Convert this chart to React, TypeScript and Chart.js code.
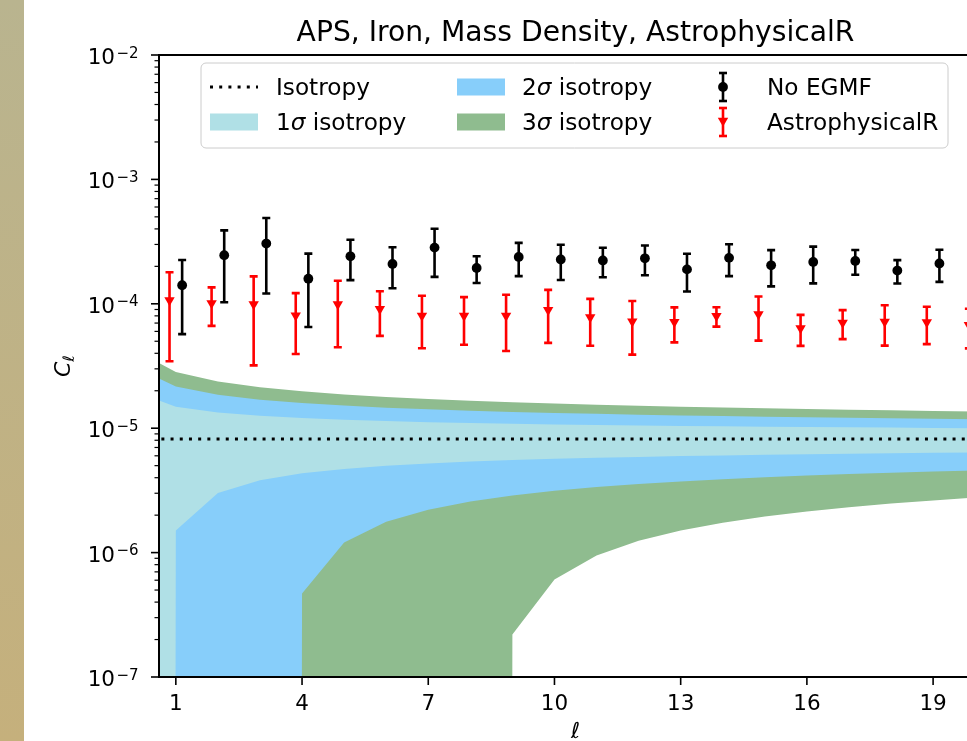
import React, { useEffect, useRef } from 'react';
import { Chart, registerables } from 'chart.js';

Chart.register(...registerables);

// ---------------- data ----------------
const TITLE = 'APS, Iron, Mass Density, AstrophysicalR';
const ELL = [1, 2, 3, 4, 5, 6, 7, 8, 9, 10, 11, 12, 13, 14, 15, 16, 17, 18, 19, 20];
const NO_EGMF_SHIFT = 0.15;
const ASTRO_SHIFT = -0.15;

const NO_EGMF = [1.41e-4, 2.46e-4, 3.05e-4, 1.59e-4, 2.41e-4, 2.09e-4, 2.83e-4, 1.94e-4, 2.38e-4, 2.27e-4,
  2.23e-4, 2.32e-4, 1.89e-4, 2.34e-4, 2.04e-4, 2.17e-4, 2.21e-4, 1.85e-4, 2.11e-4, 2.05e-4];
const NO_EGMF_ERR = [0.84e-4, 1.43e-4, 1.84e-4, 0.94e-4, 0.86e-4, 0.755e-4, 1.185e-4, 0.47e-4, 0.71e-4, 0.715e-4,
  0.595e-4, 0.625e-4, 0.635e-4, 0.67e-4, 0.66e-4, 0.71e-4, 0.5e-4, 0.395e-4, 0.61e-4, 0.6e-4];

const ASTRO_R = [1.07e-4, 1.01e-4, 0.99e-4, 0.807e-4, 0.99e-4, 0.907e-4, 0.80e-4, 0.80e-4, 0.80e-4, 0.89e-4,
  0.778e-4, 0.722e-4, 0.713e-4, 0.797e-4, 0.826e-4, 0.637e-4, 0.705e-4, 0.717e-4, 0.71e-4, 0.675e-4];
const ASTRO_R_ERR = [7.25e-5, 3.45e-5, 6.7e-5, 4.12e-5, 5.42e-5, 3.55e-5, 3.61e-5, 3.31e-5, 3.82e-5, 4.05e-5,
  3.18e-5, 3.32e-5, 2.23e-5, 1.41e-5, 3.2e-5, 1.78e-5, 1.85e-5, 2.56e-5, 2.36e-5, 2.37e-5];

const BAND_ELL = [0, 1, 2, 3, 4, 5, 6, 7, 8, 9, 10, 11, 12, 13, 14, 15, 16, 17, 18, 19, 20];
const ISOTROPY = 8.2e-6;
const SIG1_UPPER = [1.98e-5, 1.49e-5, 1.339e-5, 1.258e-5, 1.207e-5, 1.170e-5, 1.142e-5, 1.119e-5, 1.101e-5, 1.086e-5,
  1.073e-5, 1.062e-5, 1.052e-5, 1.043e-5, 1.035e-5, 1.028e-5, 1.022e-5, 1.016e-5, 1.011e-5, 1.006e-5, 1.001e-5];
const SIG1_LOWER = [0, 1.505e-6, 3.014e-6, 3.817e-6, 4.334e-6, 4.703e-6, 4.984e-6, 5.206e-6, 5.387e-6, 5.540e-6,
  5.669e-6, 5.782e-6, 5.881e-6, 5.968e-6, 6.047e-6, 6.117e-6, 6.181e-6, 6.240e-6, 6.294e-6, 6.343e-6, 6.389e-6];
const SIG2_UPPER = [3.139e-5, 2.159e-5, 1.857e-5, 1.697e-5, 1.593e-5, 1.519e-5, 1.463e-5, 1.419e-5, 1.383e-5, 1.352e-5,
  1.326e-5, 1.304e-5, 1.284e-5, 1.266e-5, 1.251e-5, 1.237e-5, 1.224e-5, 1.212e-5, 1.201e-5, 1.191e-5, 1.182e-5];
const SIG2_LOWER = [0, 0, 0, 0, 4.68e-7, 1.206e-6, 1.768e-6, 2.212e-6, 2.574e-6, 2.880e-6,
  3.138e-6, 3.364e-6, 3.562e-6, 3.736e-6, 3.894e-6, 4.034e-6, 4.162e-6, 4.280e-6, 4.388e-6, 4.486e-6, 4.578e-6];
const SIG3_UPPER = [4.299e-5, 2.829e-5, 2.376e-5, 2.135e-5, 1.980e-5, 1.869e-5, 1.785e-5, 1.718e-5, 1.664e-5, 1.618e-5,
  1.579e-5, 1.545e-5, 1.516e-5, 1.490e-5, 1.466e-5, 1.445e-5, 1.426e-5, 1.408e-5, 1.392e-5, 1.377e-5, 1.363e-5];
const SIG3_LOWER = [0, 0, 0, 0, 0, 0, 0, 0, 0, 2.2e-7,
  6.07e-7, 9.46e-7, 1.243e-6, 1.504e-6, 1.741e-6, 1.951e-6, 2.143e-6, 2.320e-6, 2.482e-6, 2.629e-6, 2.767e-6];

const X_TICKS = [1, 4, 7, 10, 13, 16, 19];
const Y_TICK_EXPONENTS = [-7, -6, -5, -4, -3, -2];
const X_RANGE = [0.6, 20.4];
const Y_RANGE = [1e-7, 1e-2];
// non-positive values are clipped far below the axis (as a log axis does)
const CLIP_FLOOR = 1e-200;

// ---------------- styles ----------------
const C_SIG1 = '#b0e0e6';
const C_SIG2 = '#87cefa';
const C_SIG3 = '#8fbc8f';
const FONT = "'DejaVu Sans', sans-serif";
const CANVAS_W = 1040;
const CANVAS_H = 741;
const AREA = { left: 159, top: 55, right: 992, bottom: 677 };
const ERR_LW = 2.6;
const CAP = 4;

const decorPlugin: any = {
  id: 'decor',
  beforeDatasetDraw(chart: any, args: any) {
    const ds: any = chart.data.datasets[args.index];
    if (!ds.errBars) return;
    const { ctx, chartArea: a } = chart;
    const xs = chart.scales.x;
    const ys = chart.scales.y;
    ctx.save();
    ctx.beginPath();
    ctx.rect(a.left, a.top, a.right - a.left, a.bottom - a.top);
    ctx.clip();
    ctx.strokeStyle = ds.errColor;
    ctx.lineWidth = ERR_LW;
    ds.data.forEach((p: any, i: number) => {
      const e = ds.errBars[i];
      const px = xs.getPixelForValue(p.x);
      const yTop = ys.getPixelForValue(p.y + e);
      const yBot = ys.getPixelForValue(p.y - e);
      ctx.beginPath();
      ctx.moveTo(px, yTop); ctx.lineTo(px, yBot);
      ctx.moveTo(px - CAP, yTop); ctx.lineTo(px + CAP, yTop);
      ctx.moveTo(px - CAP, yBot); ctx.lineTo(px + CAP, yBot);
      ctx.stroke();
    });
    ctx.restore();
  },
  afterDraw(chart: any) {
    const { ctx, chartArea: a } = chart;
    const xs = chart.scales.x;
    const ys = chart.scales.y;
    ctx.save();
    ctx.strokeStyle = '#000';
    ctx.fillStyle = '#000';

    // spines
    ctx.lineWidth = 2;
    ctx.strokeRect(a.left, a.top, a.right - a.left, a.bottom - a.top);

    const line = (x1: number, y1: number, x2: number, y2: number) => {
      ctx.beginPath(); ctx.moveTo(x1, y1); ctx.lineTo(x2, y2); ctx.stroke();
    };

    // y ticks
    ctx.lineWidth = 1.6;
    Y_TICK_EXPONENTS.forEach((e) => {
      const y = ys.getPixelForValue(Math.pow(10, e));
      line(a.left - 8, y, a.left, y);
    });
    ctx.lineWidth = 1.2;
    Y_TICK_EXPONENTS.slice(0, -1).forEach((e) => {
      for (let k = 2; k <= 9; k++) {
        const y = ys.getPixelForValue(k * Math.pow(10, e));
        line(a.left - 4.5, y, a.left, y);
      }
    });
    // x ticks
    ctx.lineWidth = 1.6;
    X_TICKS.forEach((t) => {
      const x = xs.getPixelForValue(t);
      line(x, a.bottom, x, a.bottom + 8);
    });

    // y tick labels
    ctx.textBaseline = 'alphabetic';
    Y_TICK_EXPONENTS.forEach((e) => {
      const y = ys.getPixelForValue(Math.pow(10, e));
      ctx.font = `21.5px ${FONT}`;
      ctx.textAlign = 'right';
      ctx.fillText('10', a.left - 44, y + 9);
      ctx.font = `15px ${FONT}`;
      ctx.textAlign = 'left';
      ctx.fillText('\u2212' + Math.abs(e), a.left - 42.5, y + 2.5);
    });
    // x tick labels
    ctx.font = `21.5px ${FONT}`;
    ctx.textAlign = 'center';
    X_TICKS.forEach((t) => {
      ctx.fillText(String(t), xs.getPixelForValue(t), 710);
    });

    // title
    const cx = (a.left + a.right) / 2;
    ctx.font = `28.2px ${FONT}`;
    ctx.fillText(TITLE, cx, 41);

    // x label
    ctx.font = `italic 22px ${FONT}`;
    ctx.fillText('\u2113', cx, 738);

    // y label C_ell
    ctx.save();
    ctx.translate(70, (a.top + a.bottom) / 2);
    ctx.rotate(-Math.PI / 2);
    ctx.textAlign = 'left';
    ctx.font = `italic 22px ${FONT}`;
    const wC = ctx.measureText('C').width;
    ctx.font = `italic 15.5px ${FONT}`;
    const wL = ctx.measureText('\u2113').width;
    const start = -(wC + wL) / 2;
    ctx.font = `italic 22px ${FONT}`;
    ctx.fillText('C', start, 0);
    ctx.font = `italic 15.5px ${FONT}`;
    ctx.fillText('\u2113', start + wC, 4);
    ctx.restore();

    // legend
    const lx = 201, ly = 63, lw = 747, lh = 85;
    ctx.beginPath();
    ctx.roundRect(lx, ly, lw, lh, 5);
    ctx.fillStyle = 'rgba(255,255,255,0.8)';
    ctx.fill();
    ctx.strokeStyle = '#cccccc';
    ctx.lineWidth = 1;
    ctx.stroke();
    ctx.strokeStyle = '#000';
    ctx.fillStyle = '#000';

    const r1 = 87, r2 = 122;
    const legendText = (parts: [string, boolean][], x: number, y: number) => {
      let px = x;
      ctx.textAlign = 'left';
      parts.forEach(([t, it]) => {
        ctx.font = `${it ? 'italic ' : ''}23.2px ${FONT}`;
        ctx.fillText(t, px, y + 8.3);
        px += ctx.measureText(t).width;
      });
    };
    // col 1
    ctx.save();
    ctx.lineWidth = 3;
    ctx.setLineDash([3, 6.2]);
    line(210, r1, 258, r1);
    ctx.restore();
    ctx.fillStyle = C_SIG1;
    ctx.fillRect(210, r2 - 8.5, 48, 17);
    ctx.fillStyle = '#000';
    legendText([['Isotropy', false]], 276, r1);
    legendText([['1', false], ['\u03c3', true], [' isotropy', false]], 276, r2);
    // col 2
    ctx.fillStyle = C_SIG2;
    ctx.fillRect(457, r1 - 8.5, 48, 17);
    ctx.fillStyle = C_SIG3;
    ctx.fillRect(457, r2 - 8.5, 48, 17);
    ctx.fillStyle = '#000';
    legendText([['2', false], ['\u03c3', true], [' isotropy', false]], 522, r1);
    legendText([['3', false], ['\u03c3', true], [' isotropy', false]], 522, r2);
    // col 3
    const hx = 723;
    const errHandle = (y: number, color: string) => {
      ctx.strokeStyle = color;
      ctx.lineWidth = ERR_LW;
      line(hx, y - 14, hx, y + 14);
      line(hx - CAP, y - 14, hx + CAP, y - 14);
      line(hx - CAP, y + 14, hx + CAP, y + 14);
    };
    errHandle(r1, '#000');
    ctx.fillStyle = '#000';
    ctx.beginPath();
    ctx.arc(hx, r1, 4.9, 0, Math.PI * 2);
    ctx.fill();
    errHandle(r2, '#ff0000');
    ctx.fillStyle = '#ff0000';
    ctx.beginPath();
    ctx.moveTo(hx - 5.2, r2 - 4.3);
    ctx.lineTo(hx + 5.2, r2 - 4.3);
    ctx.lineTo(hx, r2 + 4.7);
    ctx.closePath();
    ctx.fill();
    ctx.fillStyle = '#000';
    legendText([['No EGMF', false]], 767, r1);
    legendText([['AstrophysicalR', false]], 767, r2);

    ctx.restore();
  },
};

export default function App() {
  const ref = useRef<HTMLCanvasElement>(null);

  useEffect(() => {
    const canvas = ref.current;
    if (!canvas) return;

    const bandLine = (arr: number[], order: number, fill: any, color: string) => ({
      type: 'line',
      data: BAND_ELL.map((l, i) => ({ x: l, y: arr[i] > 0 ? arr[i] : CLIP_FLOOR })),
      borderColor: 'rgba(0,0,0,0)',
      borderWidth: 0,
      pointRadius: 0,
      showLine: true,
      fill,
      backgroundColor: color,
      order,
    });

    const datasets: any[] = [
      bandLine(SIG3_LOWER, 30, false, 'rgba(0,0,0,0)'),
      bandLine(SIG3_UPPER, 30, '-1', C_SIG3),
      bandLine(SIG2_LOWER, 20, false, 'rgba(0,0,0,0)'),
      bandLine(SIG2_UPPER, 20, '-1', C_SIG2),
      bandLine(SIG1_LOWER, 10, false, 'rgba(0,0,0,0)'),
      bandLine(SIG1_UPPER, 10, '-1', C_SIG1),
      {
        type: 'line',
        label: 'Isotropy',
        data: BAND_ELL.map((l) => ({ x: l, y: ISOTROPY })),
        borderColor: '#000',
        borderWidth: 3,
        borderDash: [3, 6.2],
        pointRadius: 0,
        fill: false,
        order: 5,
      },
      {
        type: 'line',
        label: 'AstrophysicalR',
        data: ELL.map((l, i) => ({ x: l + ASTRO_SHIFT, y: ASTRO_R[i] })),
        showLine: false,
        pointStyle: 'triangle',
        pointRotation: 180,
        pointRadius: 6,
        pointBackgroundColor: '#ff0000',
        pointBorderWidth: 0,
        pointBorderColor: '#ff0000',
        errBars: ASTRO_R_ERR,
        errColor: '#ff0000',
        order: 2,
      },
      {
        type: 'line',
        label: 'No EGMF',
        data: ELL.map((l, i) => ({ x: l + NO_EGMF_SHIFT, y: NO_EGMF[i] })),
        showLine: false,
        pointStyle: 'circle',
        pointRadius: 4.9,
        pointBackgroundColor: '#000',
        pointBorderWidth: 0,
        pointBorderColor: '#000',
        errBars: NO_EGMF_ERR,
        errColor: '#000',
        order: 1,
      },
    ];

    const chart = new Chart(canvas, {
      type: 'line',
      data: { datasets },
      options: {
        responsive: false,
        animation: false,
        devicePixelRatio: 1,
        events: [],
        layout: {
          padding: {
            left: AREA.left,
            top: AREA.top,
            right: CANVAS_W - AREA.right,
            bottom: CANVAS_H - AREA.bottom,
          },
        },
        scales: {
          x: { type: 'linear', min: X_RANGE[0], max: X_RANGE[1], display: false },
          y: { type: 'logarithmic', min: Y_RANGE[0], max: Y_RANGE[1], display: false },
        },
        plugins: {
          legend: { display: false },
          title: { display: false },
          tooltip: { enabled: false },
        },
      } as any,
      plugins: [decorPlugin],
    } as any);

    return () => chart.destroy();
  }, []);

  return (
    <div
      style={{
        position: 'fixed',
        left: 0,
        top: 0,
        width: 967,
        height: 741,
        overflow: 'hidden',
        background: '#ffffff',
      }}
    >
      <canvas
        ref={ref}
        width={CANVAS_W}
        height={CANVAS_H}
        style={{ position: 'absolute', left: 0, top: 0, width: CANVAS_W, height: CANVAS_H }}
      />
      <div
        style={{
          position: 'absolute',
          left: 0,
          top: 0,
          width: 24,
          height: 741,
          background: 'linear-gradient(to bottom, #b9b48f, #c5b07c)',
        }}
      />
    </div>
  );
}
